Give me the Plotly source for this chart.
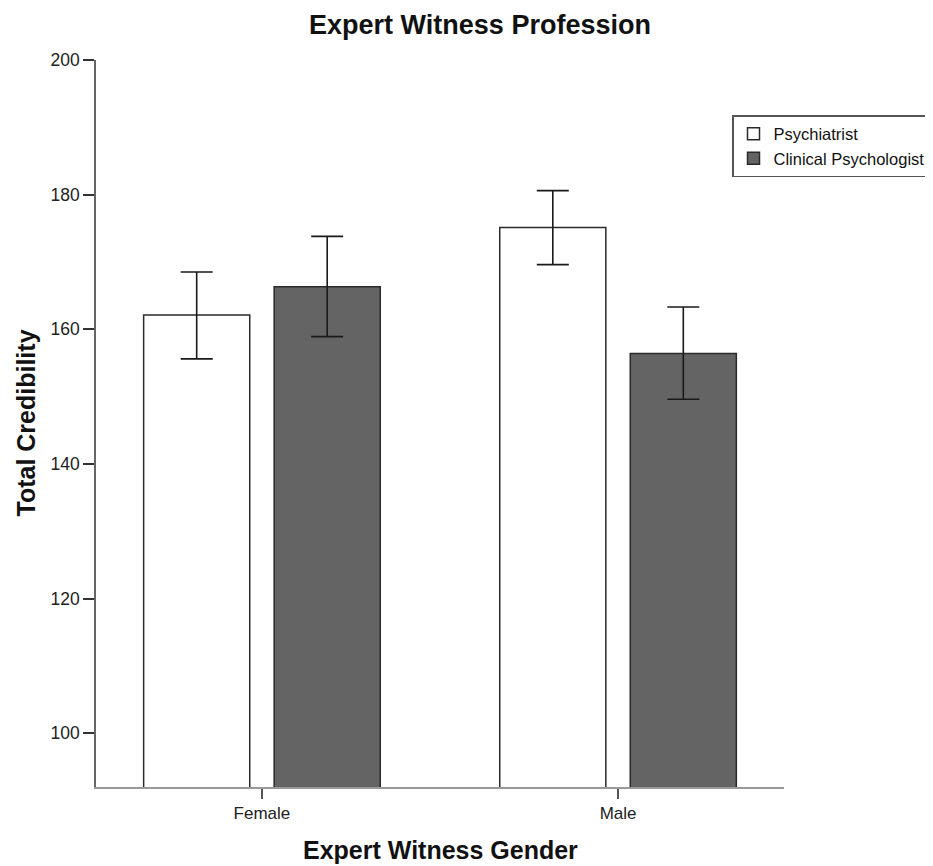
import plotly.graph_objects as go

categories = ["Female", "Male"]
cat_pos = [0, 1]
psych_vals = [162.1, 175.1]
psych_hi = [168.5, 180.6]
psych_lo = [155.6, 169.6]
clin_vals = [166.3, 156.4]
clin_hi = [173.8, 163.3]
clin_lo = [158.9, 149.6]
y_ticks = [100, 120, 140, 160, 180, 200]

W, H = 933, 866
OFF = 8  # page body offset
L, T = 96 - OFF, 60 - OFF
R = W - (784 - OFF)
B = H - (787 - OFF)
PW = W - L - R
PH = H - T - B


def err(vals, hi, lo):
    return dict(type="data", symmetric=False,
                array=[h - v for h, v in zip(hi, vals)],
                arrayminus=[v - l for v, l in zip(vals, lo)],
                color="#1a1a1a", thickness=1.6, width=16)


fig = go.Figure()
fig.add_trace(go.Bar(x=cat_pos, y=psych_vals, name="Psychiatrist",
                     marker=dict(color="white", line=dict(color="#2a2a2a", width=1.5)),
                     error_y=err(psych_vals, psych_hi, psych_lo)))
fig.add_trace(go.Bar(x=cat_pos, y=clin_vals, name="Clinical Psychologist",
                     marker=dict(color="#646464", line=dict(color="#2a2a2a", width=1.5)),
                     error_y=err(clin_vals, clin_hi, clin_lo)))

fig.update_layout(
    width=W, height=H,
    margin=dict(l=L, r=R, t=T, b=B, autoexpand=False),
    paper_bgcolor="white", plot_bgcolor="white",
    barmode="group", bargap=0.267, bargroupgap=0.187,
    font=dict(family="Liberation Sans, Arial, sans-serif", color="#222222", size=17),
    title=dict(text="<b>Expert Witness Profession</b>", x=(480 - OFF) / W, xanchor="center",
               xref="container", yref="container",
               y=1 - (25 - OFF) / H, yanchor="middle", font=dict(size=27, color="#111111")),
    showlegend=True,
    legend=dict(xref="container", yref="container",
                x=(931 - OFF) / W, y=1 - (115 - OFF) / H,
                xanchor="right", yanchor="top",
                font=dict(size=16.5, color="#111111"),
                bordercolor="#555555", borderwidth=1.5, bgcolor="white",
                tracegroupgap=0, itemwidth=30),
    xaxis=dict(tickmode="array", tickvals=cat_pos, ticktext=categories,
               range=[-0.466, 1.466], showgrid=False, zeroline=False,
               showline=True, linecolor="#999999", linewidth=1.5,
               ticks="outside", ticklen=10, tickcolor="#555555", tickwidth=1.5,
               tickfont=dict(size=17)),
    yaxis=dict(range=[92, 200], tickmode="array", tickvals=y_ticks,
               showgrid=False, zeroline=False,
               showline=True, linecolor="#666666", linewidth=1.5,
               ticks="outside", ticklen=11, tickcolor="#333333", tickwidth=1.5,
               tickfont=dict(size=17.5)),
    annotations=[
        dict(text="<b>Expert Witness Gender</b>", xref="paper", yref="paper",
             x=0.5, y=0, xanchor="center", yanchor="middle",
             yshift=-(850 - 787), showarrow=False,
             font=dict(size=25, color="#111111")),
        dict(text="<b>Total Credibility</b>", xref="paper", yref="paper",
             x=0, y=0.5, xanchor="center", yanchor="middle", textangle=-90,
             xshift=-(96 - 25), showarrow=False,
             font=dict(size=25, color="#111111")),
    ],
)

fig.write_html("out.html")
